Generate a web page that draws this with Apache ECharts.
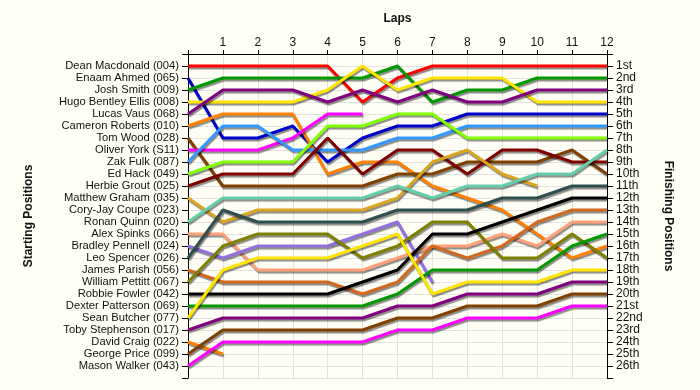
<!DOCTYPE html>
<html>
<head>
<meta charset="utf-8">
<script src="https://cdn.jsdelivr.net/npm/echarts@6/dist/echarts.min.js"></script>
<style>
html,body{margin:0;padding:0;background:#FFFFF6;}
#c{width:700px;height:390px;}
</style>
</head>
<body>
<div id="c"></div>
<script>
var laps = [0,1,2,3,4,5,6,7,8,9,10,11,12];
var lapLabels = ['', '1','2','3','4','5','6','7','8','9','10','11','12'];
var startNames = ['Dean Macdonald (004)','Enaam Ahmed (065)','Josh Smith (009)','Hugo Bentley Ellis (008)','Lucas Vaus (068)','Cameron Roberts (010)','Tom Wood (028)','Oliver York (S11)','Zak Fulk (087)','Ed Hack (049)','Herbie Grout (025)','Matthew Graham (035)','Cory-Jay Coupe (023)','Ronan Quinn (020)','Alex Spinks (066)','Bradley Pennell (024)','Leo Spencer (026)','James Parish (056)','William Pettitt (067)','Robbie Fowler (042)','Dexter Patterson (069)','Sean Butcher (077)','Toby Stephenson (017)','David Craig (022)','George Price (099)','Mason Walker (043)'];
var finishLabels = ['1st','2nd','3rd','4th','5th','6th','7th','8th','9th','10th','11th','12th','13th','14th','15th','16th','17th','18th','19th','20th','21st','22nd','23rd','24th','25th','26th'];

// positions per lap (lap 0 = grid)
var deanMacdonald   = [1,1,1,1,1,4,2,1,1,1,1,1,1];
var enaamAhmed      = [2,7,7,6,9,7,6,6,5,5,5,5,5];
var joshSmith       = [3,2,2,2,2,2,1,4,3,3,2,2,2];
var hugoBentleyEllis= [4,4,4,4,3,1,3,2,2,2,4,4,4];
var lucasVaus       = [5,3,3,3,4,3,4,3,4,4,3,3,3];
var cameronRoberts  = [6,5,5,5,10,9,9,11,12,13,15,17,16];
var tomWood         = [7,11,11,11,11,11,10,10,9,9,9,8,10];
var oliverYork      = [8,8,8,7,5,5];
var zakFulk         = [9,6,6,8,8,8,7,7,6,6,6,6,6];
var edHack          = [10,9,9,9,6,6,5,5,7,7,7,7,7];
var herbieGrout     = [11,10,10,10,7,10,8,8,10,8,8,9,9];
var matthewGraham   = [12,14,13,13,13,13,12,9,8,10,11];
var ronanQuinn      = [14,12,12,12,12,12,11,12,11,11,10,10,8];
var alexSpinks      = [15,15,18,18,18,18,17,16,16,15,16,14,14];
var bradleyPennell  = [16,17,16,16,16,15,14,19];
var leoSpencer      = [17,13,14,14,14,14,13,13,13,12,12,11,11];
var jamesParish     = [18,19,19,19,19,20,19,16,17,16,14,13,13];
var williamPettitt  = [19,16,15,15,15,17,16,14,14,17,17,15,17];
var robbieFowler    = [20,20,20,20,20,19,18,15,15,14,13,12,12];
var dexterPatterson = [21,21,21,21,21,21,20,18,18,18,18,16,15];
var seanButcher     = [22,18,17,17,17,16,15,20,19,19,19,18,18];
var tobyStephenson  = [23,22,22,22,22,22,21,21,20,20,20,19,19];
var davidCraig      = [24,25];
var georgePrice     = [25,23,23,23,23,23,22,22,21,21,21,20,20];
var masonWalker     = [26,24,24,24,24,24,23,23,22,22,22,21,21];

var drivers = [
  ['Dean Macdonald (004)', deanMacdonald, '#FF0000'],
  ['Enaam Ahmed (065)', enaamAhmed, '#0000CC'],
  ['Josh Smith (009)', joshSmith, '#009A00'],
  ['Hugo Bentley Ellis (008)', hugoBentleyEllis, '#FFE400'],
  ['Lucas Vaus (068)', lucasVaus, '#800080'],
  ['Cameron Roberts (010)', cameronRoberts, '#FF8000'],
  ['Tom Wood (028)', tomWood, '#804000'],
  ['Oliver York (S11)', oliverYork, '#FF00FF'],
  ['Zak Fulk (087)', zakFulk, '#3399FF'],
  ['Ed Hack (049)', edHack, '#80FF00'],
  ['Herbie Grout (025)', herbieGrout, '#800000'],
  ['Matthew Graham (035)', matthewGraham, '#DAA520'],
  ['Ronan Quinn (020)', ronanQuinn, '#66CDAA'],
  ['Alex Spinks (066)', alexSpinks, '#FFA07A'],
  ['Bradley Pennell (024)', bradleyPennell, '#9370DB'],
  ['Leo Spencer (026)', leoSpencer, '#2F4F4F'],
  ['James Parish (056)', jamesParish, '#D2691E'],
  ['William Pettitt (067)', williamPettitt, '#808000'],
  ['Robbie Fowler (042)', robbieFowler, '#000000'],
  ['Dexter Patterson (069)', dexterPatterson, '#009A00'],
  ['Sean Butcher (077)', seanButcher, '#FFE400'],
  ['Toby Stephenson (017)', tobyStephenson, '#800080'],
  ['David Craig (022)', davidCraig, '#FF8000'],
  ['George Price (099)', georgePrice, '#804000'],
  ['Mason Walker (043)', masonWalker, '#FF00FF']
];

var FONT = 'Liberation Sans, Arial, sans-serif';
var series = drivers.map(function(d){
  return {
    type:'line', name:d[0], symbol:'none', silent:true,
    data: d[1].map(function(p,i){ return [laps[i], p]; }),
    lineStyle:{color:d[2], width:3, shadowColor:'rgba(0,0,0,0.45)', shadowOffsetX:1, shadowOffsetY:2, shadowBlur:1},
    itemStyle:{color:d[2]}
  };
});

var chart = echarts.init(document.getElementById('c'));
chart.setOption({
  backgroundColor:'#FFFFF6',
  animation:false,
  grid:{left:188, right:93, top:54, height:324},
  xAxis:{
    type:'value', position:'top', min:0, max:12, interval:1,
    name:'Laps', nameLocation:'middle', nameGap:29,
    nameTextStyle:{fontFamily:FONT, fontSize:12, fontWeight:'bold', color:'#111'},
    axisLine:{lineStyle:{color:'#000', width:1}},
    axisTick:{show:true, length:4, lineStyle:{color:'#000'}},
    axisLabel:{fontFamily:FONT, fontSize:12, color:'#111', margin:5,
      formatter:function(v){ return lapLabels[v] || ''; }},
    splitLine:{show:true, lineStyle:{color:'#E2E2E2', width:1}}
  },
  yAxis:[{
    type:'value', position:'left', inverse:true, min:0, max:27, interval:1,
    name:'Starting Positions', nameLocation:'middle', nameGap:153,
    nameTextStyle:{fontFamily:FONT, fontSize:12, fontWeight:'bold', color:'#111'},
    axisLine:{show:true, lineStyle:{color:'#000'}},
    axisTick:{show:true, length:6, lineStyle:{color:'#000'}},
    axisLabel:{fontFamily:FONT, fontSize:11.2, color:'#111', margin:9,
      formatter:function(v){ return startNames[v-1] || ''; }},
    splitLine:{show:true, lineStyle:{color:'#E2E2E2', width:1}}
  },{
    type:'value', position:'right', inverse:true, min:0, max:27, interval:1,
    name:'Finishing Positions', nameLocation:'middle', nameGap:55, nameRotate:-90,
    nameTextStyle:{fontFamily:FONT, fontSize:12, fontWeight:'bold', color:'#111'},
    axisLine:{show:true, lineStyle:{color:'#000'}},
    axisTick:{show:true, length:6, lineStyle:{color:'#000'}},
    axisLabel:{fontFamily:FONT, fontSize:12, color:'#111', margin:9,
      formatter:function(v){ return finishLabels[v-1] || ''; }},
    splitLine:{show:false}
  }],
  series:series
});
</script>
</body>
</html>
